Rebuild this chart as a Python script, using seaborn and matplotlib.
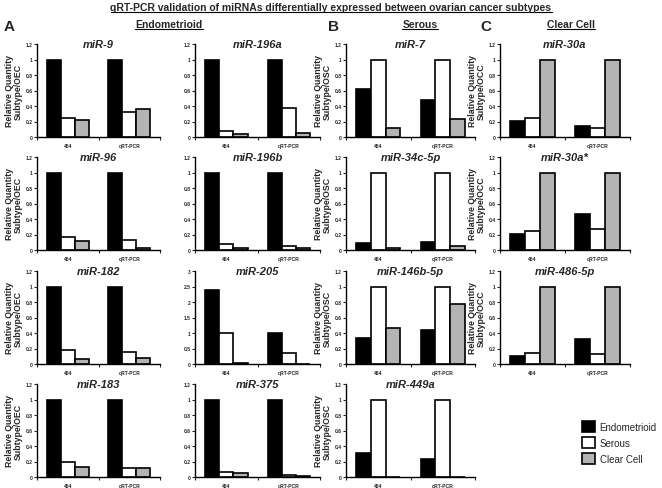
import matplotlib
matplotlib.use('Agg')
import matplotlib.pyplot as plt
import seaborn as sns
import pandas as pd
from matplotlib.lines import Line2D
from matplotlib.ticker import FuncFormatter

sns.set_style('ticks')
plt.rcParams['font.family'] = ['Liberation Sans', 'DejaVu Sans']

platforms = ['454', 'qRT-PCR']
subtypes = ['Endometrioid', 'Serous', 'Clear Cell']
colors = ['black', 'white', '#b4b4b4']

# values per miRNA: [454 values], [qRT-PCR values] in subtype order
mir_9 = [[1.0, 0.25, 0.22], [1.0, 0.32, 0.36]]
mir_196a = [[1.0, 0.08, 0.04], [1.0, 0.37, 0.05]]
mir_96 = [[1.0, 0.17, 0.12], [1.0, 0.13, 0.03]]
mir_196b = [[1.0, 0.08, 0.03], [1.0, 0.05, 0.02]]
mir_182 = [[1.0, 0.18, 0.06], [1.0, 0.15, 0.08]]
mir_205 = [[2.4, 1.0, 0.02], [1.0, 0.35, 0.0]]
mir_183 = [[1.0, 0.20, 0.13], [1.0, 0.11, 0.11]]
mir_375 = [[1.0, 0.07, 0.05], [1.0, 0.02, 0.01]]
mir_7 = [[0.62, 1.0, 0.11], [0.48, 1.0, 0.23]]
mir_34c = [[0.09, 1.0, 0.02], [0.10, 1.0, 0.05]]
mir_146b = [[0.33, 1.0, 0.47], [0.44, 1.0, 0.78]]
mir_449a = [[0.31, 1.0, 0.0], [0.23, 1.0, 0.0]]
mir_30a = [[0.21, 0.24, 1.0], [0.14, 0.12, 1.0]]
mir_30a_star = [[0.21, 0.24, 1.0], [0.46, 0.27, 1.0]]
mir_486 = [[0.10, 0.14, 1.0], [0.32, 0.13, 1.0]]

# (name, values, column, row, ylabel)
panels = [
    ('miR-9', mir_9, 0, 0, 'OEC'), ('miR-196a', mir_196a, 1, 0, None),
    ('miR-96', mir_96, 0, 1, 'OEC'), ('miR-196b', mir_196b, 1, 1, None),
    ('miR-182', mir_182, 0, 2, 'OEC'), ('miR-205', mir_205, 1, 2, None),
    ('miR-183', mir_183, 0, 3, 'OEC'), ('miR-375', mir_375, 1, 3, None),
    ('miR-7', mir_7, 2, 0, 'OSC'), ('miR-34c-5p', mir_34c, 2, 1, 'OSC'),
    ('miR-146b-5p', mir_146b, 2, 2, 'OSC'), ('miR-449a', mir_449a, 2, 3, 'OSC'),
    ('miR-30a', mir_30a, 3, 0, 'OCC'), ('miR-30a*', mir_30a_star, 3, 1, 'OCC'),
    ('miR-486-5p', mir_486, 3, 2, 'OCC'),
]

W, H = 662, 489
fig = plt.figure(figsize=(W / 100, H / 100), dpi=100)

col_left = [37, 195, 346, 500]
col_width = [123, 125, 129, 130]
row_bottom = [138, 251, 365, 478]
ax_h = 93


def fmt(v, pos):
    return '%g' % v


for name, vals, c, r, ylab in panels:
    rows = []
    for p, pv in zip(platforms, vals):
        for s, v in zip(subtypes, pv):
            rows.append({'platform': p, 'subtype': s, 'value': v})
    df = pd.DataFrame(rows)

    left = col_left[c] / W
    bottom = 1 - row_bottom[r] / H
    ax = fig.add_axes([left, bottom, col_width[c] / W, ax_h / H])
    sns.barplot(data=df, x='platform', y='value', hue='subtype',
                hue_order=subtypes, order=platforms, palette=colors,
                edgecolor='black', linewidth=1.2, width=0.68,
                legend=False, ax=ax)
    ax.set_xlim(-0.5, 1.5)
    if name == 'miR-205':
        ax.set_ylim(0, 3)
        ax.set_yticks([0, 0.5, 1, 1.5, 2, 2.5, 3])
    else:
        ax.set_ylim(0, 1.2)
        ax.set_yticks([0, 0.2, 0.4, 0.6, 0.8, 1.0, 1.2])
    ax.yaxis.set_major_formatter(FuncFormatter(fmt))
    ax.tick_params(axis='y', labelsize=3.6, length=2, width=0.8, pad=1)
    ax.tick_params(axis='x', labelsize=3.6, length=0, pad=4)
    ax.set_xticks([-0.5, 0.5, 1.5], minor=True)
    ax.tick_params(axis='x', which='minor', length=2, width=0.8)
    for lbl in ax.get_xticklabels() + ax.get_yticklabels():
        lbl.set_fontweight('bold')
    for sp in ['top', 'right']:
        ax.spines[sp].set_visible(False)
    for sp in ['left', 'bottom']:
        ax.spines[sp].set_linewidth(1.0)
        ax.spines[sp].set_color('black')
    ax.set_xlabel('')
    if ylab:
        ax.set_ylabel('Relative Quantity\nSubtype/' + ylab, fontsize=6.3,
                      fontweight='bold', labelpad=2, linespacing=1.05)
    else:
        ax.set_ylabel('')
    ax.text(0.5, 1.0, name, transform=ax.transAxes, ha='center', va='center',
            fontsize=8, fontweight='bold', fontstyle='italic')

underlined = []
underlined.append(fig.text(331 / W, 1 - 8 / H,
                           'qRT-PCR validation of miRNAs differentially expressed between ovarian cancer subtypes',
                           ha='center', va='center', fontsize=7.5, fontweight='bold'))
for lbl, cx in [('Endometrioid', 169), ('Serous', 420), ('Clear Cell', 571)]:
    underlined.append(fig.text(cx / W, 1 - 25 / H, lbl, ha='center', va='center',
                               fontsize=7.5, fontweight='bold'))
for lbl, x in [('A', 4), ('B', 328), ('C', 480)]:
    fig.text(x / W, 1 - 27 / H, lbl, ha='left', va='center', fontsize=11,
             fontweight='bold')

# legend
handles = [plt.Rectangle((0, 0), 1, 1, facecolor=col, edgecolor='black', linewidth=1.2)
           for col in colors]
fig.legend(handles, subtypes, loc='upper left', bbox_to_anchor=(573 / W, 1 - 413 / H),
           frameon=False, fontsize=7, handlelength=1.35, handleheight=1.45,
           handletextpad=0.5, labelspacing=0.45)

fig.canvas.draw()
renderer = fig.canvas.get_renderer()
for t in underlined:
    bb = t.get_window_extent(renderer)
    y = bb.y0 + 0.5
    fig.add_artist(Line2D([bb.x0 / W, bb.x1 / W], [y / H, y / H],
                          transform=fig.transFigure, color='black', linewidth=0.8))

fig.savefig('out.png', dpi=100)
